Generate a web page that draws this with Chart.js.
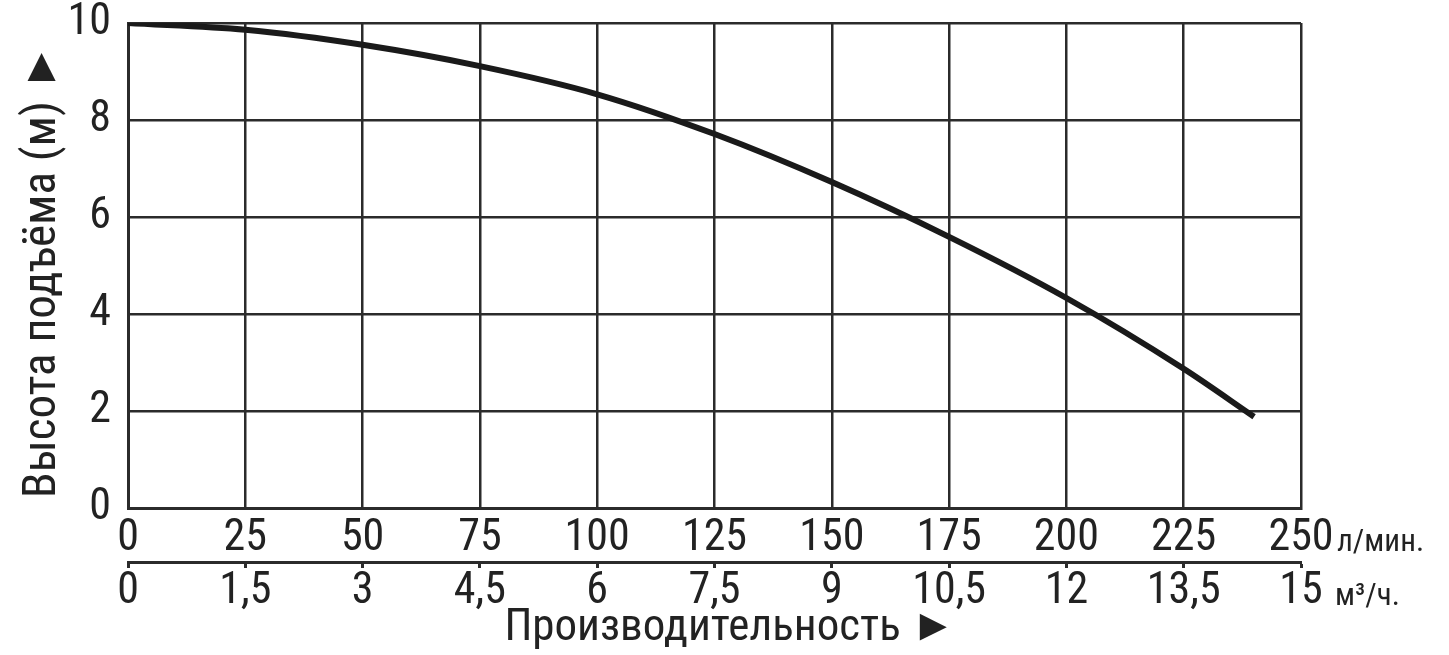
<!DOCTYPE html>
<html>
<head>
<meta charset="utf-8">
<script src="https://cdn.jsdelivr.net/npm/chart.js@4"></script>
<style>
  html, body { margin: 0; padding: 0; background: #fff; }
  #wrap { width: 1449px; height: 655px; }
</style>
</head>
<body>
<div id="wrap"><canvas id="pumpChart"></canvas></div>
<script>
// Данные кривой насоса
const flowLpm = [0, 25, 50, 75, 100, 125, 150, 175, 200, 225, 240];
const headM = [10, 9.86, 9.55, 9.11, 8.53, 7.71, 6.72, 5.59, 4.33, 2.87, 1.88];

// Подписи осей
const lpmTicks = [0, 25, 50, 75, 100, 125, 150, 175, 200, 225, 250];
const m3hTicks = [0, 1.5, 3, 4.5, 6, 7.5, 9, 10.5, 12, 13.5, 15];
const headTicks = [0, 2, 4, 6, 8, 10];

const FONT = "'Roboto Condensed', 'Liberation Sans', sans-serif";
const INK = '#222';
const GRID = '#2b2b2b';

// Единицы справа от осей
const unitsPlugin = {
  id: 'units',
  afterDraw(chart) {
    const ctx = chart.ctx;
    const right = chart.chartArea.right;
    ctx.save();
    ctx.fillStyle = INK;
    ctx.font = '31px ' + FONT;
    ctx.textBaseline = 'alphabetic';
    ctx.textAlign = 'left';
    ctx.fillText('л/мин.', right + 36, 551);
    ctx.fillText('м³/ч.', right + 34, 605);
    ctx.restore();
  }
};

const ctx = document.getElementById('pumpChart').getContext('2d');
const pumpChart = new Chart(ctx, {
  type: 'line',
  data: {
    datasets: [{
      data: flowLpm.map((x, i) => ({ x: x, y: headM[i] })),
      borderColor: '#1a1a1a',
      borderWidth: 6,
      pointRadius: 0,
      cubicInterpolationMode: 'monotone',
      fill: false
    }]
  },
  options: {
    responsive: true,
    maintainAspectRatio: false,
    animation: false,
    layout: { padding: { top: 23, right: 148, bottom: 0, left: 0 } },
    plugins: {
      legend: { display: false },
      tooltip: { enabled: false }
    },
    scales: {
      x: {
        type: 'linear',
        position: 'bottom',
        min: 0,
        max: 250,
        afterBuildTicks: s => { s.ticks = lpmTicks.map(v => ({ value: v })); },
        afterFit: s => { s.height = 54; },
        grid: { color: GRID, lineWidth: 2.5, drawTicks: false },
        border: { color: GRID, width: 3 },
        ticks: {
          color: INK,
          padding: 9,
          maxRotation: 0,
          autoSkip: false,
          font: { family: FONT, size: 44, lineHeight: 1 }
        }
      },
      x2: {
        type: 'linear',
        position: 'bottom',
        min: 0,
        max: 15,
        afterBuildTicks: s => { s.ticks = m3hTicks.map(v => ({ value: v })); },
        afterFit: s => { s.height = 93; },
        grid: { drawOnChartArea: false, drawTicks: true, tickLength: 6, tickWidth: 3, tickColor: GRID },
        border: { color: GRID, width: 3 },
        ticks: {
          color: INK,
          padding: 2,
          maxRotation: 0,
          autoSkip: false,
          font: { family: FONT, size: 44, lineHeight: 1 },
          callback: v => String(v).replace('.', ',')
        },
        title: {
          display: true,
          text: '\u00A0\u00A0\u00A0Производительность ►',
          color: INK,
          font: { family: FONT, size: 45, lineHeight: 1 },
          padding: { top: 0, bottom: 4 }
        }
      },
      y: {
        min: 0,
        max: 10,
        afterBuildTicks: s => { s.ticks = headTicks.map(v => ({ value: v })); },
        afterFit: s => { s.width = 128; s.paddingTop = 0; s.paddingBottom = 0; },
        grid: { color: GRID, lineWidth: 2.5, drawTicks: false },
        border: { color: GRID, width: 3 },
        ticks: {
          color: INK,
          padding: 17,
          font: { family: FONT, size: 44, lineHeight: 1 }
        },
        title: {
          display: true,
          text: 'Высота подъёма (м) ►\u00A0',
          color: INK,
          font: { family: FONT, size: 47, lineHeight: 1 },
          padding: { top: 20, bottom: 0 }
        }
      }
    }
  },
  plugins: [unitsPlugin]
});
</script>
</body>
</html>
